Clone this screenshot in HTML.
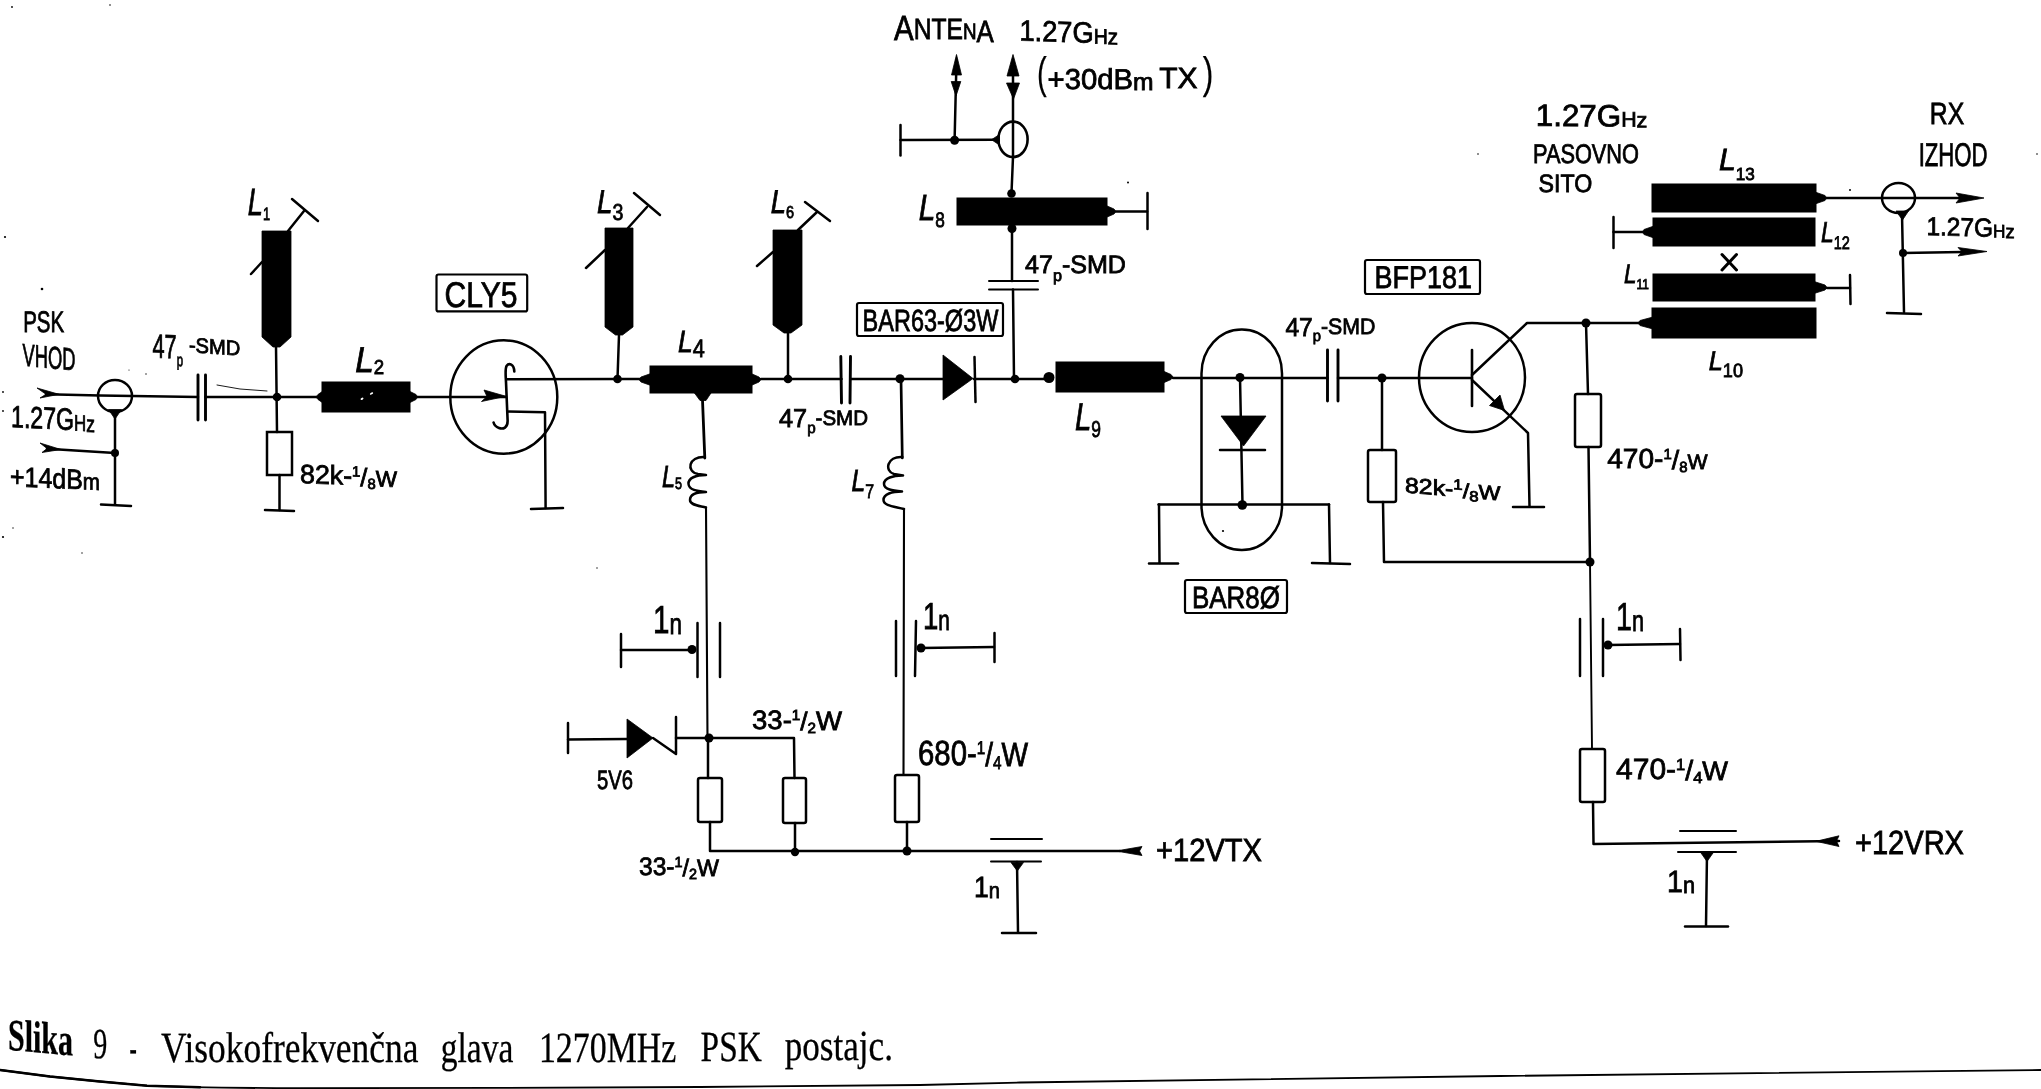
<!DOCTYPE html>
<html lang="sl"><head><meta charset="utf-8"><title>Slika 9 - Visokofrekvencna glava 1270MHz PSK postaje</title>
<style>
html,body{margin:0;padding:0;background:#fff;}
body{width:2041px;height:1089px;overflow:hidden;font-family:"Liberation Sans",sans-serif;}
svg{display:block;position:absolute;left:0;top:0;}
svg text{font-family:"Liberation Sans",sans-serif;fill:#000;text-rendering:geometricPrecision;}
svg{will-change:transform;}
svg text.i{font-style:italic;}
svg text.cap{font-family:"Liberation Serif",serif;}
</style></head><body>
<svg width="2041" height="1089" viewBox="0 0 2041 1089">
<rect x="0" y="0" width="2041" height="1089" fill="#fff"/>
<polygon points="37,388 59,394.3 40,398 46,394.3" fill="#000" stroke="#000" stroke-width="0.8" stroke-linejoin="round"/>
<path d="M46,394.3 L100,395.5 L198,397" fill="none" stroke="#000" stroke-width="2.5" stroke-linecap="round" stroke-linejoin="round"/>
<ellipse cx="115" cy="396" rx="17" ry="16" fill="none" stroke="#000" stroke-width="2.5"/>
<polygon points="108.5,409.5 121.5,409.5 115,419" fill="#000" stroke="#000" stroke-width="0.8" stroke-linejoin="round"/>
<path d="M115,412 L115,504" fill="none" stroke="#000" stroke-width="2.5" stroke-linecap="round" stroke-linejoin="round"/>
<path d="M101,504.5 L131,506" fill="none" stroke="#000" stroke-width="2.5" stroke-linecap="round" stroke-linejoin="round"/>
<polygon points="40,443 61,449.5 42,452.5 47,448.5" fill="#000" stroke="#000" stroke-width="0.8" stroke-linejoin="round"/>
<path d="M47,448.7 L115,453" fill="none" stroke="#000" stroke-width="2.5" stroke-linecap="round" stroke-linejoin="round"/>
<circle cx="115" cy="453" r="4" fill="#000"/>
<path d="M198,375 L198,420" fill="none" stroke="#000" stroke-width="2.9" stroke-linecap="round" stroke-linejoin="round"/>
<path d="M205.5,375 L205.5,420" fill="none" stroke="#000" stroke-width="2.9" stroke-linecap="round" stroke-linejoin="round"/>
<path d="M205.5,397 L317,397" fill="none" stroke="#000" stroke-width="2.5" stroke-linecap="round" stroke-linejoin="round"/>
<path d="M217,385 L240,389 L267,391" fill="none" stroke="#000" stroke-width="0.9" stroke-linecap="round" stroke-linejoin="round"/>
<circle cx="277" cy="397" r="4.3" fill="#000"/>
<polygon points="262,231 291,231 291,337 280,347 273,347 262,337" fill="#000" stroke="#000" stroke-width="0.8" stroke-linejoin="round"/>
<path d="M276,346 L277,432" fill="none" stroke="#000" stroke-width="2.5" stroke-linecap="round" stroke-linejoin="round"/>
<rect x="267" y="432" width="25" height="43" rx="0" ry="0" fill="none" stroke="#000" stroke-width="2.5"/>
<path d="M279.5,475 L279.5,510" fill="none" stroke="#000" stroke-width="2.5" stroke-linecap="round" stroke-linejoin="round"/>
<path d="M265,510 L294,511" fill="none" stroke="#000" stroke-width="2.5" stroke-linecap="round" stroke-linejoin="round"/>
<path d="M288,231 L304,211" fill="none" stroke="#000" stroke-width="2.5" stroke-linecap="round" stroke-linejoin="round"/>
<path d="M292,199 L318,221" fill="none" stroke="#000" stroke-width="2.5" stroke-linecap="round" stroke-linejoin="round"/>
<path d="M251,274 L262,262" fill="none" stroke="#000" stroke-width="2.5" stroke-linecap="round" stroke-linejoin="round"/>
<rect x="322" y="382" width="88" height="30" fill="#000" stroke="#000" stroke-width="1"/>
<polygon points="323,391 318,394.5 316,397 318,399.5 323,403" fill="#000" stroke="#000" stroke-width="0.8" stroke-linejoin="round"/>
<polygon points="409,391 416,394.5 418,397 416,399.5 409,403" fill="#000" stroke="#000" stroke-width="0.8" stroke-linejoin="round"/>
<path d="M418,397 L506,397" fill="none" stroke="#000" stroke-width="2.5" stroke-linecap="round" stroke-linejoin="round"/>
<polygon points="484,390 506,396.3 481.5,401.5 487,396.5" fill="#000" stroke="#000" stroke-width="0.8" stroke-linejoin="round"/>
<ellipse cx="503.8" cy="397" rx="53.5" ry="56.7" fill="none" stroke="#000" stroke-width="2.5"/>
<path d="M514.3,371.5 C514,364 509,362.5 506.5,366 C505,369 505.6,374 506,382 L507.6,420 C508,428 503,429.5 499,428 C496,426.8 494.2,425 493.6,422.5" fill="none" stroke="#000" stroke-width="2.6" stroke-linecap="round" stroke-linejoin="round"/>
<path d="M507,379.3 L617.5,379" fill="none" stroke="#000" stroke-width="2.5" stroke-linecap="round" stroke-linejoin="round"/>
<path d="M508,411.6 L545,412.3 L545.6,508" fill="none" stroke="#000" stroke-width="2.5" stroke-linecap="round" stroke-linejoin="round"/>
<path d="M531,509 L563,508" fill="none" stroke="#000" stroke-width="2.5" stroke-linecap="round" stroke-linejoin="round"/>
<rect x="436.5" y="274.5" width="90.7" height="36.9" rx="2" ry="2" fill="none" stroke="#000" stroke-width="2.2"/>
<polygon points="605,228 633,228 633,327 622.5,335 615.5,335 605,327" fill="#000" stroke="#000" stroke-width="0.8" stroke-linejoin="round"/>
<path d="M619,335 L617.5,379" fill="none" stroke="#000" stroke-width="2.5" stroke-linecap="round" stroke-linejoin="round"/>
<circle cx="617.5" cy="379" r="4.3" fill="#000"/>
<path d="M628,228 L647,207" fill="none" stroke="#000" stroke-width="2.5" stroke-linecap="round" stroke-linejoin="round"/>
<path d="M634,193 L660,215" fill="none" stroke="#000" stroke-width="2.5" stroke-linecap="round" stroke-linejoin="round"/>
<path d="M586,268 L605,250" fill="none" stroke="#000" stroke-width="2.5" stroke-linecap="round" stroke-linejoin="round"/>
<path d="M617.5,379 L640,379" fill="none" stroke="#000" stroke-width="2.5" stroke-linecap="round" stroke-linejoin="round"/>
<rect x="650" y="366" width="102" height="27" fill="#000" stroke="#000" stroke-width="1"/>
<polygon points="651,373.5 641,377 639,379.5 641,382 651,385.5" fill="#000" stroke="#000" stroke-width="0.8" stroke-linejoin="round"/>
<polygon points="751,373.5 759,377 761,379.5 759,382 751,385.5" fill="#000" stroke="#000" stroke-width="0.8" stroke-linejoin="round"/>
<polygon points="694.5,393 711,393 706,400.5 700,400.5" fill="#000" stroke="#000" stroke-width="0.8" stroke-linejoin="round"/>
<path d="M702.5,400 L704.8,458" fill="none" stroke="#000" stroke-width="2.8" stroke-linecap="round" stroke-linejoin="round"/>
<path d="M704.8,457 C688,456 686,472 698,474 L706,475 C696,475 688,478 688.5,484 C689,490 697,491 706,492 C696,492 690,495 690,500 C690,505 698,505.5 706,507.5" fill="none" stroke="#000" stroke-width="2.5" stroke-linecap="round" stroke-linejoin="round"/>
<path d="M706,507.5 L707.5,738" fill="none" stroke="#000" stroke-width="2.1" stroke-linecap="round" stroke-linejoin="round"/>
<path d="M761,379 L841.5,379" fill="none" stroke="#000" stroke-width="2.5" stroke-linecap="round" stroke-linejoin="round"/>
<circle cx="788" cy="379" r="4.3" fill="#000"/>
<polygon points="773,230 802,230 802,325 791,333 784,333 773,325" fill="#000" stroke="#000" stroke-width="0.8" stroke-linejoin="round"/>
<path d="M788,333 L788,379" fill="none" stroke="#000" stroke-width="2.5" stroke-linecap="round" stroke-linejoin="round"/>
<path d="M798,230 L817,212" fill="none" stroke="#000" stroke-width="2.5" stroke-linecap="round" stroke-linejoin="round"/>
<path d="M805,202 L830,221" fill="none" stroke="#000" stroke-width="2.5" stroke-linecap="round" stroke-linejoin="round"/>
<path d="M757,266 L773,252" fill="none" stroke="#000" stroke-width="2.5" stroke-linecap="round" stroke-linejoin="round"/>
<path d="M840.8,356.5 L841.5,403" fill="none" stroke="#000" stroke-width="2.9" stroke-linecap="round" stroke-linejoin="round"/>
<path d="M850.5,356.5 L850,403" fill="none" stroke="#000" stroke-width="2.9" stroke-linecap="round" stroke-linejoin="round"/>
<path d="M850.5,379 L943,379" fill="none" stroke="#000" stroke-width="2.5" stroke-linecap="round" stroke-linejoin="round"/>
<circle cx="900" cy="378.7" r="4.5" fill="#000"/>
<path d="M901,379 L902.3,458" fill="none" stroke="#000" stroke-width="2.7" stroke-linecap="round" stroke-linejoin="round"/>
<path d="M902.3,457 C887,456 884,471 894,474 L903,475.6 C893,475.5 884,478 884,484 C884,489.5 893,490.5 902,491.5 C892,491.5 883.5,494 883.5,500 C883.5,506 895,506.5 904,509" fill="none" stroke="#000" stroke-width="2.5" stroke-linecap="round" stroke-linejoin="round"/>
<path d="M904,509 L903.5,775" fill="none" stroke="#000" stroke-width="2.1" stroke-linecap="round" stroke-linejoin="round"/>
<polygon points="943,355 943,400 973,378.5" fill="#000" stroke="#000" stroke-width="0.8" stroke-linejoin="round"/>
<path d="M974.5,357 L975.5,402" fill="none" stroke="#000" stroke-width="2.5" stroke-linecap="round" stroke-linejoin="round"/>
<path d="M974,379 L1045,379" fill="none" stroke="#000" stroke-width="2.5" stroke-linecap="round" stroke-linejoin="round"/>
<circle cx="1015" cy="379" r="4.3" fill="#000"/>
<rect x="857" y="303" width="146" height="33" rx="2" ry="2" fill="none" stroke="#000" stroke-width="2.2"/>
<path d="M1014,379 L1013,289.5" fill="none" stroke="#000" stroke-width="2.5" stroke-linecap="round" stroke-linejoin="round"/>
<path d="M989,281 L1038,281" fill="none" stroke="#000" stroke-width="2" stroke-linecap="round" stroke-linejoin="round"/>
<path d="M989,289.5 L1038,289.5" fill="none" stroke="#000" stroke-width="2" stroke-linecap="round" stroke-linejoin="round"/>
<path d="M1012,281 L1012,229" fill="none" stroke="#000" stroke-width="2.5" stroke-linecap="round" stroke-linejoin="round"/>
<circle cx="1012" cy="228.5" r="4.5" fill="#000"/>
<rect x="957" y="198" width="150" height="27" fill="#000" stroke="#000" stroke-width="1"/>
<polygon points="1106,205.5 1114,209 1116,211.5 1114,214 1106,217.5" fill="#000" stroke="#000" stroke-width="0.8" stroke-linejoin="round"/>
<path d="M1116,211.5 L1147,211.5" fill="none" stroke="#000" stroke-width="2.5" stroke-linecap="round" stroke-linejoin="round"/>
<path d="M1147.5,193 L1147.5,229" fill="none" stroke="#000" stroke-width="2.5" stroke-linecap="round" stroke-linejoin="round"/>
<circle cx="1011.5" cy="193.5" r="4.3" fill="#000"/>
<path d="M1011.5,193 L1013,157" fill="none" stroke="#000" stroke-width="2.5" stroke-linecap="round" stroke-linejoin="round"/>
<ellipse cx="1013" cy="139.3" rx="14.6" ry="17.7" fill="none" stroke="#000" stroke-width="2.6"/>
<path d="M1013,60 L1013,158" fill="none" stroke="#000" stroke-width="2.5" stroke-linecap="round" stroke-linejoin="round"/>
<polygon points="1013,54.5 1019,76 1007,76" fill="#000" stroke="#000" stroke-width="0.8" stroke-linejoin="round"/>
<polygon points="1006.5,83 1019.5,83 1013.5,99" fill="#000" stroke="#000" stroke-width="0.8" stroke-linejoin="round"/>
<path d="M956.5,60 L954.6,140" fill="none" stroke="#000" stroke-width="2.5" stroke-linecap="round" stroke-linejoin="round"/>
<polygon points="956.5,54.5 961.5,75 951.5,75" fill="#000" stroke="#000" stroke-width="0.8" stroke-linejoin="round"/>
<polygon points="951.2,81.5 960.8,81.5 956,96" fill="#000" stroke="#000" stroke-width="0.8" stroke-linejoin="round"/>
<path d="M900.5,125 L900.5,155.5" fill="none" stroke="#000" stroke-width="2.5" stroke-linecap="round" stroke-linejoin="round"/>
<path d="M900.5,140 L998,139.7" fill="none" stroke="#000" stroke-width="2.5" stroke-linecap="round" stroke-linejoin="round"/>
<circle cx="954.6" cy="140.3" r="4.5" fill="#000"/>
<polygon points="991.5,139.7 999.5,134.5 999.5,145" fill="#000" stroke="#000" stroke-width="0.8" stroke-linejoin="round"/>
<rect x="1056" y="362" width="108" height="30" fill="#000" stroke="#000" stroke-width="1"/>
<polygon points="1163,371 1171,374.5 1173,377 1171,379.5 1163,383" fill="#000" stroke="#000" stroke-width="0.8" stroke-linejoin="round"/>
<circle cx="1049" cy="377.5" r="5.5" fill="#000"/>
<path d="M1173,378 L1327.5,378" fill="none" stroke="#000" stroke-width="2.5" stroke-linecap="round" stroke-linejoin="round"/>
<rect x="1201.5" y="329.5" width="80.5" height="220.5" rx="40" ry="44" fill="none" stroke="#000" stroke-width="2.5"/>
<circle cx="1240" cy="377.5" r="4.5" fill="#000"/>
<path d="M1240,377 L1242.5,505" fill="none" stroke="#000" stroke-width="2.5" stroke-linecap="round" stroke-linejoin="round"/>
<polygon points="1221,416 1266,416 1243.5,446" fill="#000" stroke="#000" stroke-width="0.8" stroke-linejoin="round"/>
<path d="M1220,450 L1265,450" fill="none" stroke="#000" stroke-width="2.5" stroke-linecap="round" stroke-linejoin="round"/>
<circle cx="1242.3" cy="505" r="4.8" fill="#000"/>
<path d="M1158.5,504.5 L1329,504.5" fill="none" stroke="#000" stroke-width="2.5" stroke-linecap="round" stroke-linejoin="round"/>
<path d="M1159,504.5 L1159.5,563" fill="none" stroke="#000" stroke-width="2.5" stroke-linecap="round" stroke-linejoin="round"/>
<path d="M1329,504.5 L1330,563" fill="none" stroke="#000" stroke-width="2.5" stroke-linecap="round" stroke-linejoin="round"/>
<path d="M1149,563.5 L1178,563.5" fill="none" stroke="#000" stroke-width="2.5" stroke-linecap="round" stroke-linejoin="round"/>
<path d="M1312,563 L1350,564" fill="none" stroke="#000" stroke-width="2.5" stroke-linecap="round" stroke-linejoin="round"/>
<rect x="1185" y="580" width="102" height="33" rx="2" ry="2" fill="none" stroke="#000" stroke-width="2.2"/>
<path d="M1327.5,350 L1327.5,401" fill="none" stroke="#000" stroke-width="2.9" stroke-linecap="round" stroke-linejoin="round"/>
<path d="M1338,350 L1338,401" fill="none" stroke="#000" stroke-width="2.9" stroke-linecap="round" stroke-linejoin="round"/>
<path d="M1338,378 L1472,378" fill="none" stroke="#000" stroke-width="2.5" stroke-linecap="round" stroke-linejoin="round"/>
<circle cx="1382" cy="378" r="4.5" fill="#000"/>
<path d="M1382,378 L1382,450" fill="none" stroke="#000" stroke-width="2.5" stroke-linecap="round" stroke-linejoin="round"/>
<rect x="1368" y="450" width="28" height="52" rx="2" ry="2" fill="none" stroke="#000" stroke-width="2.5"/>
<path d="M1383,502 L1384,562 L1590,562" fill="none" stroke="#000" stroke-width="2.5" stroke-linecap="round" stroke-linejoin="round"/>
<ellipse cx="1472" cy="377.5" rx="53" ry="54.5" fill="none" stroke="#000" stroke-width="2.5"/>
<path d="M1472,350 L1472,406" fill="none" stroke="#000" stroke-width="2.6" stroke-linecap="round" stroke-linejoin="round"/>
<path d="M1472,375 L1527,323 L1640,323" fill="none" stroke="#000" stroke-width="2.5" stroke-linecap="round" stroke-linejoin="round"/>
<circle cx="1586" cy="323" r="4.5" fill="#000"/>
<path d="M1472,380 L1528,433 L1529.5,506" fill="none" stroke="#000" stroke-width="2.5" stroke-linecap="round" stroke-linejoin="round"/>
<path d="M1513,507 L1544,507" fill="none" stroke="#000" stroke-width="2.5" stroke-linecap="round" stroke-linejoin="round"/>
<polygon points="1504.5,410.5 1489.5,405.5 1500,395" fill="#000" stroke="#000" stroke-width="0.8" stroke-linejoin="round"/>
<rect x="1365" y="260" width="115" height="34" rx="2" ry="2" fill="none" stroke="#000" stroke-width="2.2"/>
<path d="M1586,323 L1588,394" fill="none" stroke="#000" stroke-width="2.5" stroke-linecap="round" stroke-linejoin="round"/>
<rect x="1575" y="394" width="26" height="53" rx="2" ry="2" fill="none" stroke="#000" stroke-width="2.5"/>
<path d="M1588.5,447 L1590,562" fill="none" stroke="#000" stroke-width="2.5" stroke-linecap="round" stroke-linejoin="round"/>
<circle cx="1590" cy="562" r="4.5" fill="#000"/>
<path d="M1590,562 L1592,749" fill="none" stroke="#000" stroke-width="1.9" stroke-linecap="round" stroke-linejoin="round"/>
<path d="M1580,619 L1580,676" fill="none" stroke="#000" stroke-width="2.5" stroke-linecap="round" stroke-linejoin="round"/>
<path d="M1603,619 L1603,676" fill="none" stroke="#000" stroke-width="2.5" stroke-linecap="round" stroke-linejoin="round"/>
<circle cx="1608" cy="645" r="4.5" fill="#000"/>
<path d="M1608,645 L1680,644" fill="none" stroke="#000" stroke-width="2.5" stroke-linecap="round" stroke-linejoin="round"/>
<path d="M1680,629 L1680.5,660" fill="none" stroke="#000" stroke-width="2.5" stroke-linecap="round" stroke-linejoin="round"/>
<rect x="1580" y="749" width="25" height="53" rx="2" ry="2" fill="none" stroke="#000" stroke-width="2.5"/>
<path d="M1593,802 L1593.5,844 L1839,841" fill="none" stroke="#000" stroke-width="2.5" stroke-linecap="round" stroke-linejoin="round"/>
<polygon points="1816,841.3 1839,835.8 1836.5,841 1839,846.5" fill="#000" stroke="#000" stroke-width="0.8" stroke-linejoin="round"/>
<path d="M1680,831 L1736,831" fill="none" stroke="#000" stroke-width="2" stroke-linecap="round" stroke-linejoin="round"/>
<path d="M1678,852 L1736,852" fill="none" stroke="#000" stroke-width="2" stroke-linecap="round" stroke-linejoin="round"/>
<polygon points="1701,853 1713,853 1707,861.5" fill="#000" stroke="#000" stroke-width="0.8" stroke-linejoin="round"/>
<path d="M1707,853 L1706,926" fill="none" stroke="#000" stroke-width="2.5" stroke-linecap="round" stroke-linejoin="round"/>
<path d="M1685,926.5 L1728,926.5" fill="none" stroke="#000" stroke-width="2.5" stroke-linecap="round" stroke-linejoin="round"/>
<rect x="1652" y="184" width="164" height="28" fill="#000" stroke="#000" stroke-width="1"/>
<polygon points="1815,192 1825,195.5 1827,198 1825,200.5 1815,204" fill="#000" stroke="#000" stroke-width="0.8" stroke-linejoin="round"/>
<path d="M1827,198 L1960,198" fill="none" stroke="#000" stroke-width="2.5" stroke-linecap="round" stroke-linejoin="round"/>
<polygon points="1956,193 1984,198 1956,203 1960,198" fill="#000" stroke="#000" stroke-width="0.8" stroke-linejoin="round"/>
<ellipse cx="1898.5" cy="198" rx="16.5" ry="15" fill="none" stroke="#000" stroke-width="2.5"/>
<polygon points="1896,211 1908.5,211 1902.5,220" fill="#000" stroke="#000" stroke-width="0.8" stroke-linejoin="round"/>
<path d="M1902,214 L1904,312" fill="none" stroke="#000" stroke-width="2.5" stroke-linecap="round" stroke-linejoin="round"/>
<path d="M1887,313 L1921,314" fill="none" stroke="#000" stroke-width="2.5" stroke-linecap="round" stroke-linejoin="round"/>
<circle cx="1903" cy="253" r="4" fill="#000"/>
<path d="M1903,253 L1962,252" fill="none" stroke="#000" stroke-width="2.5" stroke-linecap="round" stroke-linejoin="round"/>
<polygon points="1958,247.5 1987,251.5 1958,256 1962,251.7" fill="#000" stroke="#000" stroke-width="0.8" stroke-linejoin="round"/>
<rect x="1653" y="218" width="162" height="28" fill="#000" stroke="#000" stroke-width="1"/>
<polygon points="1654,226 1644,229.5 1642,232 1644,234.5 1654,238" fill="#000" stroke="#000" stroke-width="0.8" stroke-linejoin="round"/>
<path d="M1613.5,232 L1642,232" fill="none" stroke="#000" stroke-width="2.5" stroke-linecap="round" stroke-linejoin="round"/>
<path d="M1613.5,217 L1613.5,248" fill="none" stroke="#000" stroke-width="2.5" stroke-linecap="round" stroke-linejoin="round"/>
<path d="M1722,254.5 L1736.5,270" fill="none" stroke="#000" stroke-width="3" stroke-linecap="round" stroke-linejoin="round"/>
<path d="M1736.5,254.5 L1722,270" fill="none" stroke="#000" stroke-width="3" stroke-linecap="round" stroke-linejoin="round"/>
<rect x="1653" y="274" width="162" height="27" fill="#000" stroke="#000" stroke-width="1"/>
<polygon points="1814,281.5 1825,285 1827,287.5 1825,290 1814,293.5" fill="#000" stroke="#000" stroke-width="0.8" stroke-linejoin="round"/>
<path d="M1827,288 L1850,288" fill="none" stroke="#000" stroke-width="2.5" stroke-linecap="round" stroke-linejoin="round"/>
<path d="M1850,275 L1850.5,304" fill="none" stroke="#000" stroke-width="2.5" stroke-linecap="round" stroke-linejoin="round"/>
<rect x="1652" y="308" width="164" height="30" fill="#000" stroke="#000" stroke-width="1"/>
<polygon points="1653,317 1640,320.5 1638,323 1640,325.5 1653,329" fill="#000" stroke="#000" stroke-width="0.8" stroke-linejoin="round"/>
<path d="M697.5,623 L697.5,677" fill="none" stroke="#000" stroke-width="2.5" stroke-linecap="round" stroke-linejoin="round"/>
<path d="M720,623 L720,677" fill="none" stroke="#000" stroke-width="2.5" stroke-linecap="round" stroke-linejoin="round"/>
<circle cx="692" cy="649.5" r="4.5" fill="#000"/>
<path d="M621,650 L692,650" fill="none" stroke="#000" stroke-width="2.5" stroke-linecap="round" stroke-linejoin="round"/>
<path d="M621,634 L621,667" fill="none" stroke="#000" stroke-width="2.5" stroke-linecap="round" stroke-linejoin="round"/>
<path d="M896,621 L896,676" fill="none" stroke="#000" stroke-width="2.5" stroke-linecap="round" stroke-linejoin="round"/>
<path d="M916,621 L915,676" fill="none" stroke="#000" stroke-width="2.5" stroke-linecap="round" stroke-linejoin="round"/>
<circle cx="921" cy="648" r="4.5" fill="#000"/>
<path d="M921,648 L994,647" fill="none" stroke="#000" stroke-width="2.5" stroke-linecap="round" stroke-linejoin="round"/>
<path d="M994.5,633 L994.5,662" fill="none" stroke="#000" stroke-width="2.5" stroke-linecap="round" stroke-linejoin="round"/>
<path d="M568,723 L568,753" fill="none" stroke="#000" stroke-width="2.5" stroke-linecap="round" stroke-linejoin="round"/>
<path d="M568,739.5 L627,739" fill="none" stroke="#000" stroke-width="2.5" stroke-linecap="round" stroke-linejoin="round"/>
<polygon points="627,719 627,758 653,738" fill="#000" stroke="#000" stroke-width="0.8" stroke-linejoin="round"/>
<path d="M653,738 L676,754 L676,717" fill="none" stroke="#000" stroke-width="2.5" stroke-linecap="round" stroke-linejoin="round"/>
<path d="M676,738 L709,738" fill="none" stroke="#000" stroke-width="2.5" stroke-linecap="round" stroke-linejoin="round"/>
<circle cx="709" cy="738" r="4.5" fill="#000"/>
<path d="M709,738 L794,738 L794.5,778" fill="none" stroke="#000" stroke-width="2.5" stroke-linecap="round" stroke-linejoin="round"/>
<rect x="783" y="778" width="23" height="45" rx="2" ry="2" fill="none" stroke="#000" stroke-width="2.5"/>
<path d="M795,823 L795,852" fill="none" stroke="#000" stroke-width="2.5" stroke-linecap="round" stroke-linejoin="round"/>
<path d="M708,738 L708,778" fill="none" stroke="#000" stroke-width="2.5" stroke-linecap="round" stroke-linejoin="round"/>
<rect x="698" y="778" width="24" height="44" rx="2" ry="2" fill="none" stroke="#000" stroke-width="2.5"/>
<path d="M710,822 L710,851 L1120,851" fill="none" stroke="#000" stroke-width="2.5" stroke-linecap="round" stroke-linejoin="round"/>
<circle cx="795" cy="852" r="4.2" fill="#000"/>
<circle cx="907" cy="851" r="4.5" fill="#000"/>
<rect x="895" y="775" width="24" height="47" rx="2" ry="2" fill="none" stroke="#000" stroke-width="2.5"/>
<path d="M907,822 L907,851" fill="none" stroke="#000" stroke-width="2.5" stroke-linecap="round" stroke-linejoin="round"/>
<polygon points="1116,851 1142,846.5 1139.5,851 1142,855.5" fill="#000" stroke="#000" stroke-width="0.8" stroke-linejoin="round"/>
<path d="M991,839 L1042,839" fill="none" stroke="#000" stroke-width="2" stroke-linecap="round" stroke-linejoin="round"/>
<path d="M991,861.5 L1041,861.5" fill="none" stroke="#000" stroke-width="2" stroke-linecap="round" stroke-linejoin="round"/>
<polygon points="1011,862.5 1023.5,862.5 1017.3,871" fill="#000" stroke="#000" stroke-width="0.8" stroke-linejoin="round"/>
<path d="M1017,862 L1018,932" fill="none" stroke="#000" stroke-width="2.5" stroke-linecap="round" stroke-linejoin="round"/>
<path d="M1002,933 L1036,933" fill="none" stroke="#000" stroke-width="2.5" stroke-linecap="round" stroke-linejoin="round"/>
<path d="M0,1070 L50,1076.5 L100,1081.5 L147,1085.7 C180,1087.3 230,1088 300,1088.2 C400,1088.3 600,1087.6 700,1087 C800,1086.3 880,1085.5 920,1085 L1020,1082.5 L1500,1076 L2041,1070" fill="none" stroke="#000" stroke-width="1.8" stroke-linecap="round" stroke-linejoin="round"/>
<path d="M0,1070 L50,1076.5 L100,1081.5 L147,1085.7 L200,1087.3" fill="none" stroke="#000" stroke-width="2.6" stroke-linecap="round" stroke-linejoin="round"/>
<ellipse cx="362" cy="398.8" rx="1.6" ry="1" fill="#fff" transform="rotate(-30 362 398.8)"/>
<ellipse cx="371.5" cy="393.5" rx="1.8" ry="1" fill="#fff" transform="rotate(-30 371.5 393.5)"/>
<circle cx="12" cy="7" r="0.9" fill="#000"/>
<circle cx="110" cy="5" r="0.8" fill="#000"/>
<circle cx="5" cy="237" r="1.1" fill="#000"/>
<circle cx="42" cy="289" r="1.3" fill="#000"/>
<circle cx="3" cy="392" r="0.9" fill="#000"/>
<circle cx="3" cy="411" r="0.9" fill="#000"/>
<circle cx="3" cy="537" r="1.1" fill="#000"/>
<circle cx="13" cy="528" r="0.7" fill="#000"/>
<circle cx="82" cy="553" r="0.7" fill="#000"/>
<circle cx="597" cy="568" r="0.7" fill="#000"/>
<circle cx="1128" cy="182.5" r="1.0" fill="#000"/>
<circle cx="1478" cy="154" r="0.8" fill="#000"/>
<circle cx="1850" cy="190" r="1.0" fill="#000"/>
<circle cx="1223" cy="531" r="1.1" fill="#000"/>
<circle cx="2037" cy="154" r="0.8" fill="#000"/>
<circle cx="146" cy="374" r="0.7" fill="#000"/>
<circle cx="129" cy="370" r="0.6" fill="#000"/>
<text x="23.2" y="332.3" textLength="41" lengthAdjust="spacingAndGlyphs" stroke="#000" stroke-width="0.8" xml:space="preserve"><tspan font-size="29.7486">PSK</tspan></text>
<text x="22.5" y="365.5" textLength="53" lengthAdjust="spacingAndGlyphs" transform="translate(22.5 365.5) skewY(5.5) translate(-22.5 -365.5)" stroke="#000" stroke-width="0.8" xml:space="preserve"><tspan font-size="31.4246">VHOD</tspan></text>
<text x="11" y="427" textLength="84" lengthAdjust="spacingAndGlyphs" transform="translate(11 427) skewY(2.8) translate(-11 -427)" stroke="#000" stroke-width="0.8" xml:space="preserve"><tspan font-size="30.7263">1.27G</tspan><tspan font-size="22.3464" dy="0.5">H</tspan><tspan font-size="23.1214" dy="0.5">z</tspan></text>
<text x="10" y="486" textLength="90" lengthAdjust="spacingAndGlyphs" transform="translate(10 486) skewY(2.6) translate(-10 -486)" stroke="#000" stroke-width="0.8" xml:space="preserve"><tspan font-size="27.933">+14dB</tspan><tspan font-size="23.1214">m</tspan></text>
<text x="152.5" y="357.6" textLength="30.5" lengthAdjust="spacingAndGlyphs" transform="translate(152.5 357.6) skewY(2) translate(-152.5 -357.6)" stroke="#000" stroke-width="0.8" xml:space="preserve"><tspan font-size="33.5196">47</tspan><tspan font-size="17.5676" dy="7.5">p</tspan></text>
<text x="188.9" y="352" textLength="51.5" lengthAdjust="spacingAndGlyphs" transform="translate(188.9 352) skewY(4) translate(-188.9 -352)" stroke="#000" stroke-width="0.8" xml:space="preserve"><tspan font-size="20.9497">-SMD</tspan></text>
<text x="247.7" y="215" textLength="22.3" lengthAdjust="spacingAndGlyphs" class="i" stroke="#000" stroke-width="0.8" xml:space="preserve"><tspan font-size="38.1285" font-style="italic">L</tspan><tspan font-size="17.8771" dy="4.8" font-style="normal">1</tspan></text>
<text x="444.6" y="306.6" textLength="73" lengthAdjust="spacingAndGlyphs" stroke="#000" stroke-width="0.8" xml:space="preserve"><tspan font-size="35.7542">CLY5</tspan></text>
<text x="355.3" y="372.4" textLength="28.9" lengthAdjust="spacingAndGlyphs" class="i" stroke="#000" stroke-width="0.8" xml:space="preserve"><tspan font-size="35.8939" font-style="italic">L</tspan><tspan font-size="20.1117" dy="1.6" font-style="normal">2</tspan></text>
<text x="300" y="483" textLength="97" lengthAdjust="spacingAndGlyphs" transform="translate(300 483) skewY(2) translate(-300 -483)" stroke="#000" stroke-width="0.8" xml:space="preserve"><tspan font-size="26.5363">82k-</tspan><tspan font-size="14.6648" dy="-8.55">1</tspan><tspan font-size="25.2095" dy="9.55">/</tspan><tspan font-size="14.6648" dy="2.5">8</tspan><tspan font-size="22.3464" dy="-3">W</tspan></text>
<text x="597" y="213" textLength="26.3" lengthAdjust="spacingAndGlyphs" class="i" stroke="#000" stroke-width="0.8" xml:space="preserve"><tspan font-size="32.6816" font-style="italic">L</tspan><tspan font-size="23.0447" dy="6.8" font-style="normal">3</tspan></text>
<text x="770.7" y="213" textLength="23.3" lengthAdjust="spacingAndGlyphs" class="i" stroke="#000" stroke-width="0.8" xml:space="preserve"><tspan font-size="32.6816" font-style="italic">L</tspan><tspan font-size="17.3184" dy="5.4" font-style="normal">6</tspan></text>
<text x="678" y="351.5" textLength="26.8" lengthAdjust="spacingAndGlyphs" class="i" stroke="#000" stroke-width="0.8" xml:space="preserve"><tspan font-size="30.7263" font-style="italic">L</tspan><tspan font-size="25.1397" dy="5.5" font-style="normal">4</tspan></text>
<text x="661.9" y="487.4" textLength="20.1" lengthAdjust="spacingAndGlyphs" class="i" stroke="#000" stroke-width="0.8" xml:space="preserve"><tspan font-size="30.5866" font-style="italic">L</tspan><tspan font-size="16.4804" dy="1.6" font-style="normal">5</tspan></text>
<text x="851.5" y="490.5" textLength="22.5" lengthAdjust="spacingAndGlyphs" class="i" stroke="#000" stroke-width="0.8" xml:space="preserve"><tspan font-size="30.5866" font-style="italic">L</tspan><tspan font-size="19.6927" dy="7.8" font-style="normal">7</tspan></text>
<text x="779" y="427.3" textLength="89" lengthAdjust="spacingAndGlyphs" stroke="#000" stroke-width="0.8" xml:space="preserve"><tspan font-size="25.838">47</tspan><tspan font-size="15.5405" dy="5.9">p</tspan><tspan font-size="20.9497" dy="-8.7">-SMD</tspan></text>
<text x="862.6" y="331" textLength="135.8" lengthAdjust="spacingAndGlyphs" stroke="#000" stroke-width="0.8" xml:space="preserve"><tspan font-size="30.7263">BAR63-Ø3W</tspan></text>
<text x="918.8" y="219.8" textLength="26.1" lengthAdjust="spacingAndGlyphs" class="i" stroke="#000" stroke-width="0.8" xml:space="preserve"><tspan font-size="36.4525" font-style="italic">L</tspan><tspan font-size="21.0894" dy="6.8" font-style="normal">8</tspan></text>
<text x="1025" y="273.3" textLength="101" lengthAdjust="spacingAndGlyphs" stroke="#000" stroke-width="0.8" xml:space="preserve"><tspan font-size="25.1397">47</tspan><tspan font-size="16.2162" dy="7.2">p</tspan><tspan font-size="25.1397" dy="-7.2">-SMD</tspan></text>
<text x="894.1" y="40" textLength="99.7" lengthAdjust="spacingAndGlyphs" stroke="#000" stroke-width="0.8" xml:space="preserve"><tspan font-size="34.9162">A</tspan><tspan font-size="29.3296" dy="-1.5">NTE</tspan><tspan font-size="22.3464">N</tspan><tspan font-size="30.7263" dy="3">A</tspan></text>
<text x="1019.4" y="40.6" textLength="98.7" lengthAdjust="spacingAndGlyphs" transform="translate(1019.4 40.6) skewY(1.8) translate(-1019.4 -40.6)" stroke="#000" stroke-width="0.8" xml:space="preserve"><tspan font-size="29.3296">1.27G</tspan><tspan font-size="20.9497" dy="0.5">H</tspan><tspan font-size="22.158" dy="0.5">z</tspan></text>
<text x="1037" y="88" textLength="9.7" lengthAdjust="spacingAndGlyphs" stroke="#000" stroke-width="0.2" xml:space="preserve"><tspan font-size="44">(</tspan></text>
<text x="1047.6" y="88.5" textLength="149.9" lengthAdjust="spacingAndGlyphs" stroke="#000" stroke-width="0.8" xml:space="preserve"><tspan font-size="28.6313">+30dB</tspan><tspan font-size="24.0848" dy="1">m</tspan><tspan font-size="20" dy="-1"> </tspan><tspan font-size="29.3296" dy="-1">TX</tspan></text>
<text x="1202.8" y="88" textLength="10.6" lengthAdjust="spacingAndGlyphs" stroke="#000" stroke-width="0.2" xml:space="preserve"><tspan font-size="44">)</tspan></text>
<text x="1075" y="429.7" textLength="26" lengthAdjust="spacingAndGlyphs" class="i" stroke="#000" stroke-width="0.8" xml:space="preserve"><tspan font-size="38.6872" font-style="italic">L</tspan><tspan font-size="23.0447" dy="6.8" font-style="normal">9</tspan></text>
<text x="1285.4" y="335.5" textLength="90" lengthAdjust="spacingAndGlyphs" stroke="#000" stroke-width="0.8" xml:space="preserve"><tspan font-size="25.838">47</tspan><tspan font-size="15.5405" dy="5.7">p</tspan><tspan font-size="22.3464" dy="-6.9">-SMD</tspan></text>
<text x="1374.6" y="288.4" textLength="97.4" lengthAdjust="spacingAndGlyphs" stroke="#000" stroke-width="0.8" xml:space="preserve"><tspan font-size="31.2849">BFP181</tspan></text>
<text x="1192" y="608" textLength="88" lengthAdjust="spacingAndGlyphs" stroke="#000" stroke-width="0.8" xml:space="preserve"><tspan font-size="30.7263">BAR8Ø</tspan></text>
<text x="1405" y="492.5" textLength="95.6" lengthAdjust="spacingAndGlyphs" transform="translate(1405 492.5) skewY(4.5) translate(-1405 -492.5)" stroke="#000" stroke-width="0.8" xml:space="preserve"><tspan font-size="21.648">82k-</tspan><tspan font-size="14.6648" dy="-6.975">1</tspan><tspan font-size="20.5656" dy="7.975">/</tspan><tspan font-size="14.6648" dy="2.5">8</tspan><tspan font-size="20.2514" dy="-3">W</tspan></text>
<text x="1607.2" y="468.2" textLength="100.4" lengthAdjust="spacingAndGlyphs" stroke="#000" stroke-width="0.8" xml:space="preserve"><tspan font-size="27.6536">470-</tspan><tspan font-size="14.6648" dy="-8.91">1</tspan><tspan font-size="26.2709" dy="9.91">/</tspan><tspan font-size="14.6648" dy="2.5">8</tspan><tspan font-size="20.9497" dy="-3">W</tspan></text>
<text x="1708.8" y="369.6" textLength="34.2" lengthAdjust="spacingAndGlyphs" class="i" stroke="#000" stroke-width="0.8" xml:space="preserve"><tspan font-size="26.9553" font-style="italic">L</tspan><tspan font-size="19.2737" dy="6.9" font-style="normal">10</tspan></text>
<text x="1719" y="169.9" textLength="35.8" lengthAdjust="spacingAndGlyphs" class="i" stroke="#000" stroke-width="0.8" xml:space="preserve"><tspan font-size="30.7263" font-style="italic">L</tspan><tspan font-size="17.4581" dy="9.6" font-style="normal">13</tspan></text>
<text x="1821" y="241.5" textLength="28.9" lengthAdjust="spacingAndGlyphs" class="i" stroke="#000" stroke-width="0.8" xml:space="preserve"><tspan font-size="28.7709" font-style="italic">L</tspan><tspan font-size="18.1564" dy="7.5" font-style="normal">12</tspan></text>
<text x="1624" y="282.8" textLength="24.8" lengthAdjust="spacingAndGlyphs" class="i" stroke="#000" stroke-width="0.8" xml:space="preserve"><tspan font-size="26.8156" font-style="italic">L</tspan><tspan font-size="14.2458" dy="6.1" font-style="normal">11</tspan></text>
<text x="1535.8" y="125.8" textLength="111.6" lengthAdjust="spacingAndGlyphs" transform="translate(1535.8 125.8) skewY(0.5) translate(-1535.8 -125.8)" stroke="#000" stroke-width="0.8" xml:space="preserve"><tspan font-size="30.7263">1.27G</tspan><tspan font-size="20.9497">H</tspan><tspan font-size="21.1946" dy="0.5">z</tspan></text>
<text x="1533" y="163" textLength="106" lengthAdjust="spacingAndGlyphs" stroke="#000" stroke-width="0.8" xml:space="preserve"><tspan font-size="26.9553">PASOVNO</tspan></text>
<text x="1538.6" y="192" textLength="53.7" lengthAdjust="spacingAndGlyphs" stroke="#000" stroke-width="0.8" xml:space="preserve"><tspan font-size="25.1397">SITO</tspan></text>
<text x="1929.8" y="124.4" textLength="34.4" lengthAdjust="spacingAndGlyphs" stroke="#000" stroke-width="0.8" xml:space="preserve"><tspan font-size="30.7263">RX</tspan></text>
<text x="1918.7" y="165.8" textLength="68.9" lengthAdjust="spacingAndGlyphs" stroke="#000" stroke-width="0.8" xml:space="preserve"><tspan font-size="32.8212">IZHOD</tspan></text>
<text x="1926.4" y="235" textLength="88.2" lengthAdjust="spacingAndGlyphs" transform="translate(1926.4 235) skewY(1.5) translate(-1926.4 -235)" stroke="#000" stroke-width="0.8" xml:space="preserve"><tspan font-size="25.838">1.27G</tspan><tspan font-size="18.1564" dy="0.5">H</tspan><tspan font-size="19.2678" dy="0.5">z</tspan></text>
<text x="653" y="633" textLength="29" lengthAdjust="spacingAndGlyphs" stroke="#000" stroke-width="0.8" xml:space="preserve"><tspan font-size="39.1061">1</tspan><tspan font-size="29.6724" dy="1">n</tspan></text>
<text x="923" y="629" textLength="27" lengthAdjust="spacingAndGlyphs" stroke="#000" stroke-width="0.8" xml:space="preserve"><tspan font-size="37.7095">1</tspan><tspan font-size="28.6127" dy="1">n</tspan></text>
<text x="1616" y="630" textLength="28" lengthAdjust="spacingAndGlyphs" stroke="#000" stroke-width="0.8" xml:space="preserve"><tspan font-size="39.1061">1</tspan><tspan font-size="29.6724" dy="1">n</tspan></text>
<text x="974" y="897" textLength="26" lengthAdjust="spacingAndGlyphs" stroke="#000" stroke-width="0.8" xml:space="preserve"><tspan font-size="29.3296">1</tspan><tspan font-size="22.2543" dy="1">n</tspan></text>
<text x="1667" y="892" textLength="28" lengthAdjust="spacingAndGlyphs" stroke="#000" stroke-width="0.8" xml:space="preserve"><tspan font-size="30.7263">1</tspan><tspan font-size="23.3141" dy="1">n</tspan></text>
<text x="597" y="789" textLength="36" lengthAdjust="spacingAndGlyphs" stroke="#000" stroke-width="0.8" xml:space="preserve"><tspan font-size="26.5363">5V6</tspan></text>
<text x="752" y="729" textLength="90" lengthAdjust="spacingAndGlyphs" stroke="#000" stroke-width="0.8" xml:space="preserve"><tspan font-size="26.5363">33-</tspan><tspan font-size="14.6648" dy="-8.55">1</tspan><tspan font-size="25.2095" dy="9.55">/</tspan><tspan font-size="14.6648" dy="2.5">2</tspan><tspan font-size="26.5363" dy="-3">W</tspan></text>
<text x="639" y="875" textLength="80" lengthAdjust="spacingAndGlyphs" stroke="#000" stroke-width="0.8" xml:space="preserve"><tspan font-size="25.1397">33-</tspan><tspan font-size="14.6648" dy="-8.1">1</tspan><tspan font-size="23.8827" dy="9.1">/</tspan><tspan font-size="14.6648" dy="2.5">2</tspan><tspan font-size="23.743" dy="-3">W</tspan></text>
<text x="918" y="765" textLength="110" lengthAdjust="spacingAndGlyphs" stroke="#000" stroke-width="0.8" xml:space="preserve"><tspan font-size="34.9162">680-</tspan><tspan font-size="18.1564" dy="-11.25">1</tspan><tspan font-size="33.1704" dy="12.25">/</tspan><tspan font-size="18.1564" dy="2.5">4</tspan><tspan font-size="33.5196" dy="-3">W</tspan></text>
<text x="1156" y="861" textLength="106" lengthAdjust="spacingAndGlyphs" stroke="#000" stroke-width="0.8" xml:space="preserve"><tspan font-size="32.1229">+12VTX</tspan></text>
<text x="1616" y="779" textLength="112" lengthAdjust="spacingAndGlyphs" stroke="#000" stroke-width="0.8" xml:space="preserve"><tspan font-size="29.3296">470-</tspan><tspan font-size="16.0615" dy="-9.45">1</tspan><tspan font-size="27.8631" dy="10.45">/</tspan><tspan font-size="16.0615" dy="2.5">4</tspan><tspan font-size="26.5363" dy="-3">W</tspan></text>
<text x="1855" y="854" textLength="109" lengthAdjust="spacingAndGlyphs" stroke="#000" stroke-width="0.8" xml:space="preserve"><tspan font-size="33.5196">+12VRX</tspan></text>
<text x="8" y="1049.8" textLength="65" lengthAdjust="spacingAndGlyphs" transform="translate(8 1049.8) skewY(5.2) translate(-8 -1049.8)" class="cap" stroke="#000" stroke-width="0.3" font-weight="bold" xml:space="preserve"><tspan font-size="45">Slika</tspan></text>
<text x="93.3" y="1058" textLength="14" lengthAdjust="spacingAndGlyphs" transform="translate(93.3 1058) skewY(2) translate(-93.3 -1058)" class="cap" stroke="#000" stroke-width="0.3" xml:space="preserve"><tspan font-size="43">9</tspan></text>
<text x="129.4" y="1062" textLength="7.3" lengthAdjust="spacingAndGlyphs" class="cap" stroke="#000" stroke-width="0.3" xml:space="preserve"><tspan font-size="43">-</tspan></text>
<text x="161" y="1062.3" textLength="257.4" lengthAdjust="spacingAndGlyphs" class="cap" stroke="#000" stroke-width="0.3" xml:space="preserve"><tspan font-size="43">Visokofrekvenčna</tspan></text>
<text x="440.8" y="1061.5" textLength="72.6" lengthAdjust="spacingAndGlyphs" class="cap" stroke="#000" stroke-width="0.3" xml:space="preserve"><tspan font-size="43">glava</tspan></text>
<text x="538.9" y="1061.7" textLength="137.5" lengthAdjust="spacingAndGlyphs" class="cap" stroke="#000" stroke-width="0.3" xml:space="preserve"><tspan font-size="43">1270MHz</tspan></text>
<text x="700.6" y="1061.2" textLength="61.2" lengthAdjust="spacingAndGlyphs" class="cap" stroke="#000" stroke-width="0.3" xml:space="preserve"><tspan font-size="43">PSK</tspan></text>
<text x="784.7" y="1060.2" textLength="108.3" lengthAdjust="spacingAndGlyphs" class="cap" stroke="#000" stroke-width="0.3" xml:space="preserve"><tspan font-size="43">postajc.</tspan></text>
</svg>
</body></html>
